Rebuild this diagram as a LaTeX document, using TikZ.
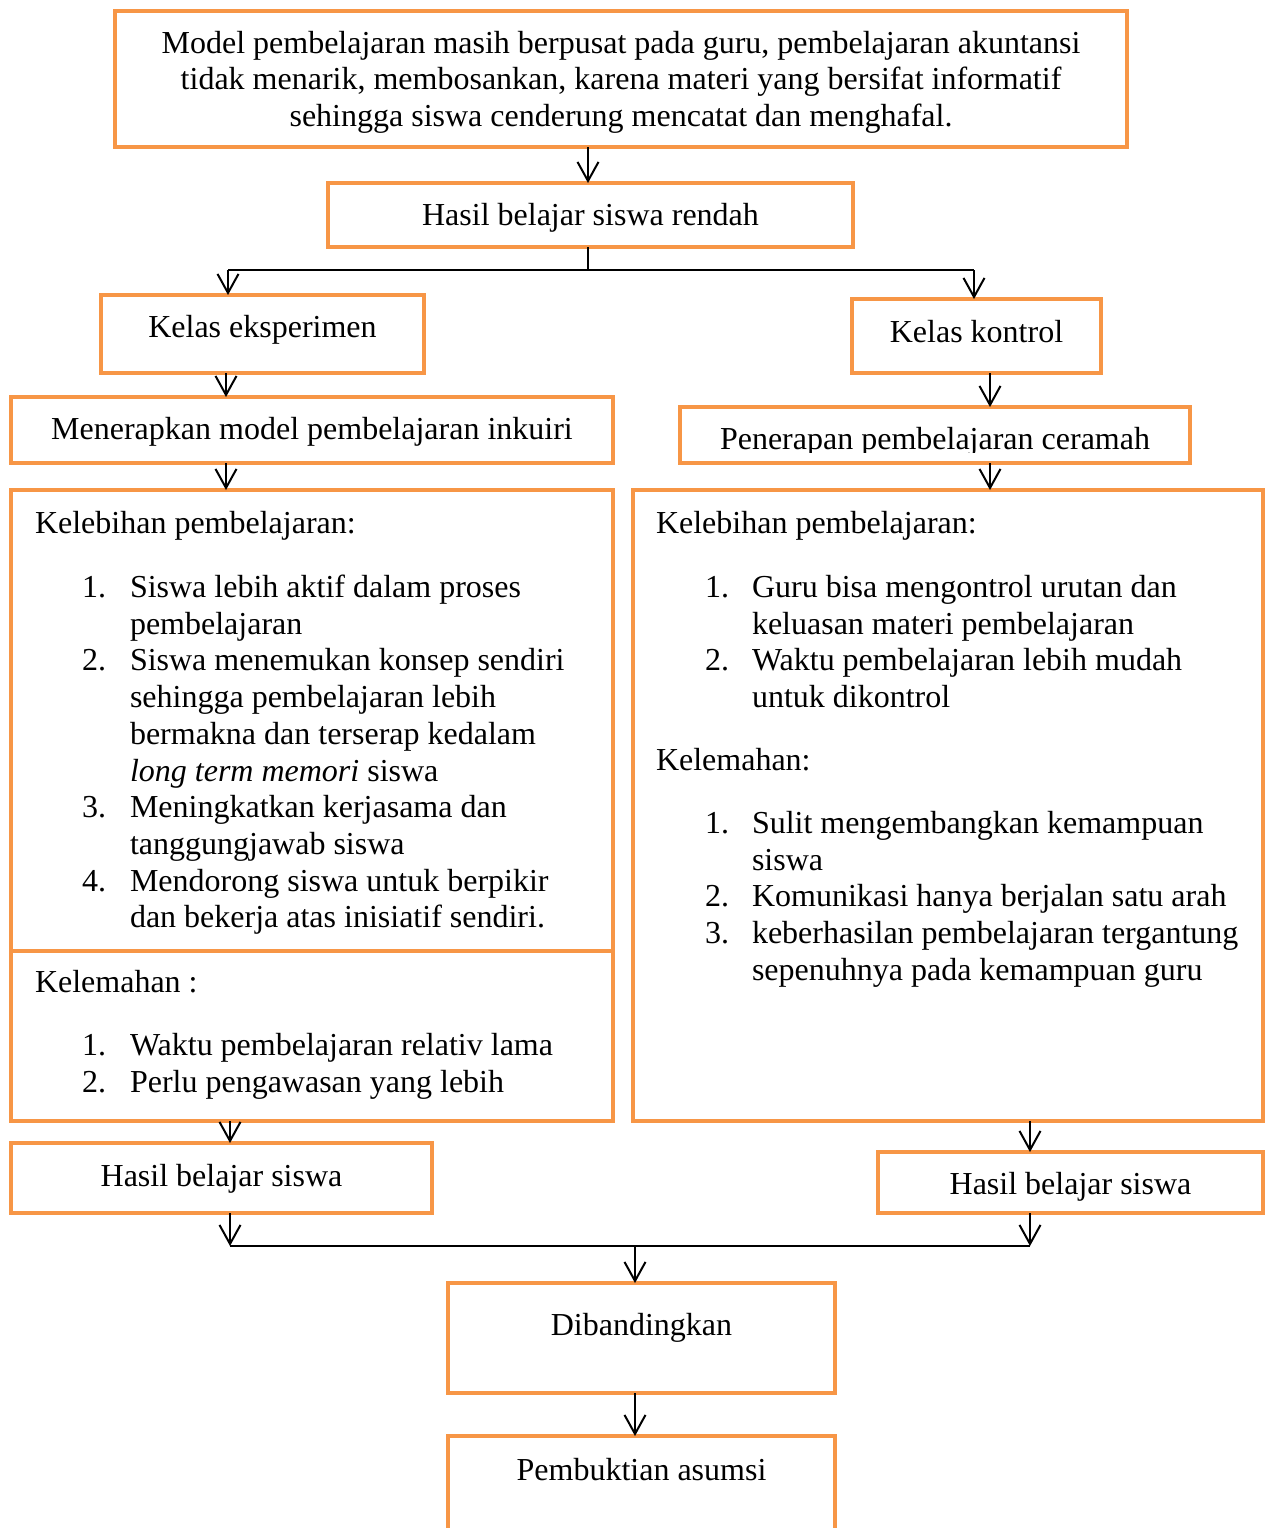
\documentclass[tikz,border=0pt]{standalone}
\usepackage{fontspec}
\setmainfont{Liberation Serif}
\usetikzlibrary{arrows.meta,calc}
\definecolor{boxorange}{HTML}{F79646}
\newcommand\bx[5]{\node[obox, minimum width={#4-#2}, minimum height={#5-#3}] (#1) at ({(#2+#4)/2},{(#3+#5)/2}) {};}
\newcommand\tline[4]{\node[txt,anchor=base west] (#1) at (#2,#3) {#4};}
\newcommand\tcent[4]{\node[txt,anchor=base] (#1) at (#2,#3) {#4};}
\tikzset{
  obox/.style={draw=boxorange, line width=4pt, rectangle, inner sep=0pt, outer sep=0pt, fill=white},
  txt/.style={inner sep=0pt, outer sep=0pt, font=\fontsize{32}{36.7}\selectfont},
  conn/.style={draw=black, line width=2pt},
  arr/.style={conn, -{Straight Barb[length=19pt,width=21pt]}},
}
\begin{document}
\begin{tikzpicture}[x=1pt,y=-1pt]
\useasboundingbox (0,0) rectangle (1270,1528);
\clip (0,0) rectangle (1270,1528);
% boxes
\bx{top}{115}{11}{1127}{147}
\bx{hasil}{328}{183}{853}{247}
\bx{eks}{101}{295}{424}{373}
\bx{kon}{852}{299}{1101}{373}
\bx{inq}{11}{397}{613}{463}
\bx{cer}{680}{407}{1190}{463}
\bx{lup}{11}{490}{613}{951}
\bx{llo}{11}{951}{613}{1121}
\bx{rbig}{633}{490}{1263}{1121}
\bx{hl}{11}{1143}{432}{1213}
\bx{hr}{878}{1152}{1263}{1213}
\bx{dib}{448}{1283}{835}{1393}
\bx{bukti}{448}{1436}{835}{1570}
% texts
\tcent{t1}{621}{53}{Model pembelajaran masih berpusat pada guru, pembelajaran akuntansi}
\tcent{t2}{621}{89.5}{tidak menarik, membosankan, karena materi yang bersifat informatif}
\tcent{t3}{621}{126}{sehingga siswa cenderung mencatat dan menghafal.}
\tcent{th}{590.5}{225.5}{Hasil belajar siswa rendah}
\tcent{te}{262.5}{337.5}{Kelas eksperimen}
\tcent{tk}{976.5}{342.5}{Kelas kontrol}
\tcent{ti}{312}{439.5}{Menerapkan model pembelajaran inkuiri}
\begin{scope}
\clip (682,409) rectangle (1188,452);
\tcent{tc}{935}{449.5}{Penerapan pembelajaran ceramah}
\end{scope}
% left upper
\tline{la0}{35}{533.5}{Kelebihan pembelajaran:}
\tline{la1n}{82}{597.5}{1.}
\tline{la1a}{130}{597.5}{Siswa lebih aktif dalam proses}
\tline{la1b}{130}{634.2}{pembelajaran}
\tline{la2n}{82}{670.9}{2.}
\tline{la2a}{130}{670.9}{Siswa menemukan konsep sendiri}
\tline{la2b}{130}{707.6}{sehingga pembelajaran lebih}
\tline{la2c}{130}{744.3}{bermakna dan terserap kedalam}
\tline{la2d}{130}{781}{\textit{long term memori} siswa}
\tline{la3n}{82}{817.7}{3.}
\tline{la3a}{130}{817.7}{Meningkatkan kerjasama dan}
\tline{la3b}{130}{854.4}{tanggungjawab siswa}
\tline{la4n}{82}{891.1}{4.}
\tline{la4a}{130}{891.1}{Mendorong siswa untuk berpikir}
\tline{la4b}{130}{927.8}{dan bekerja atas inisiatif sendiri.}
% left lower
\tline{lb0}{35}{992.5}{Kelemahan :}
\tline{lb1n}{82}{1055.5}{1.}
\tline{lb1a}{130}{1055.5}{Waktu pembelajaran relativ lama}
\tline{lb2n}{82}{1092.5}{2.}
\tline{lb2a}{130}{1092.5}{Perlu pengawasan yang lebih}
% right
\tline{ra0}{656}{533.5}{Kelebihan pembelajaran:}
\tline{ra1n}{705}{597.5}{1.}
\tline{ra1a}{752}{597.5}{Guru bisa mengontrol urutan dan}
\tline{ra1b}{752}{634.2}{keluasan materi pembelajaran}
\tline{ra2n}{705}{670.9}{2.}
\tline{ra2a}{752}{670.9}{Waktu pembelajaran lebih mudah}
\tline{ra2b}{752}{707.6}{untuk dikontrol}
\tline{rb0}{656}{770.5}{Kelemahan:}
\tline{rb1n}{705}{833.5}{1.}
\tline{rb1a}{752}{833.5}{Sulit mengembangkan kemampuan}
\tline{rb1b}{752}{870.2}{siswa}
\tline{rb2n}{705}{906.9}{2.}
\tline{rb2a}{752}{906.9}{Komunikasi hanya berjalan satu arah}
\tline{rb3n}{705}{943.6}{3.}
\tline{rb3a}{752}{943.6}{keberhasilan pembelajaran tergantung}
\tline{rb3b}{752}{980.3}{sepenuhnya pada kemampuan guru}
% bottom texts
\tcent{thl}{221.5}{1186.5}{Hasil belajar siswa}
\tcent{thr}{1070.5}{1194.5}{Hasil belajar siswa}
\tcent{td}{641.5}{1335.5}{Dibandingkan}
\tcent{tb}{641.5}{1480.5}{Pembuktian asumsi}
% connector columns
\coordinate (cA) at (226,0);
\coordinate (cB) at (990,0);
\coordinate (cC) at (230,0);
\coordinate (cD) at (1030,0);
\coordinate (cE) at (635,0);
\coordinate (cT) at (588,0);
\coordinate (bl) at (228,270);
\coordinate (br) at (974,270);
\coordinate (jl) at (230,1246);
\coordinate (jr) at (1030,1246);
% connectors
\draw[arr] (cT |- top.south) -- (cT |- hasil.north);
\draw[conn] (hasil.south -| cT) -- (cT |- bl);
\draw[conn] (bl) -- (br);
\draw[arr] (bl) -- (bl |- eks.north);
\draw[arr] (br) -- (br |- kon.north);
\draw[arr] (cA |- eks.south) -- (cA |- inq.north);
\draw[arr] (cB |- kon.south) -- (cB |- cer.north);
\draw[arr] (cA |- inq.south) -- (cA |- lup.north);
\draw[arr] (cB |- cer.south) -- (cB |- rbig.north);
\draw[arr] (cC |- llo.south) -- (cC |- hl.north);
\draw[arr] (cD |- rbig.south) -- (cD |- hr.north);
\draw[arr] (cC |- hl.south) -- (jl);
\draw[arr] (cD |- hr.south) -- (jr);
\draw[conn] (jl) -- (jr);
\draw[arr] (cE |- jl) -- (cE |- dib.north);
\draw[arr] (cE |- dib.south) -- (cE |- bukti.north);
\end{tikzpicture}
\end{document}
